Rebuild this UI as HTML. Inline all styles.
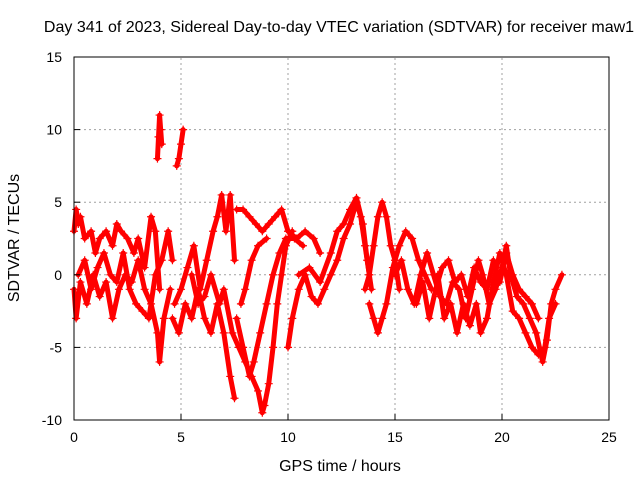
<!DOCTYPE html>
<html><head><meta charset="utf-8"><style>
body{margin:0;background:#fff;}
svg{display:block;font-family:"Liberation Sans",Arial,sans-serif;}
</style></head><body>
<svg id="chart" width="640" height="480">
<text x="339" y="32" font-size="16" text-anchor="middle">Day 341 of 2023, Sidereal Day-to-day VTEC variation (SDTVAR) for receiver maw1</text>
<text x="340" y="471" font-size="16" text-anchor="middle">GPS time / hours</text>
<text transform="translate(19,238) rotate(-90)" font-size="16" text-anchor="middle">SDTVAR / TECUs</text>
<g id="grid"></g><g id="marks"></g>
<rect x="74" y="57" width="535" height="363" fill="none" stroke="#000"/>
<g id="ticks"></g>
</svg>
<script>
const xTicks=[0,5,10,15,20,25];
const yTicks=[-10,-5,0,5,10,15];
const t1h=[0,0.1,0.2,0.3,0.5,0.8,1.0,1.2,1.5,1.8,2.0,2.2,2.5,2.8,3.0,3.3,3.6,3.8,4.0];
const t1v=[3,4.5,3.5,4,2.5,3,1.5,2.5,3,2,3.5,3,2.5,1.5,2.5,0.5,4,3,-1];
const t2h=[0,0.1,0.3,0.6,0.9,1.2,1.5,1.8,2.1,2.4,2.7,3.0,3.3,3.6,3.9,4.0,4.2,4.5];
const t2v=[-1,-3,-0.5,-2,0,-1.5,-0.5,-3,-1,0,-0.5,1,-1,-2,-4,-6,-3,-1];
const t3h=[0.2,0.5,0.8,1.1,1.4,1.7,2.0,2.3,2.6,2.9,3.2,3.5,3.8,4.1,4.4,4.6];
const t3v=[0,1,-1,0.5,1.5,0,-0.5,1.5,-1,-2,-2.5,-3,0,1,3,1];
const t4h=[3.9,3.95,4.0,4.05,4.1];
const t4v=[8,9.5,11,10,9];
const t5h=[4.8,4.9,5.0,5.1];
const t5v=[7.5,8,9,10];
const t6h=[4.7,5.0,5.3,5.6,5.9,6.2,6.5,6.7,6.9,7.1,7.3,7.5];
const t6v=[-2,-1,0.5,2,-1,1,3,4,5.5,3,5.5,1];
const t7h=[4.6,4.9,5.2,5.5,5.8,6.1,6.4,6.7,7.0,7.3,7.5];
const t7v=[-3,-4,-2,-3,-1,-3,-4,-2,-4,-7,-8.5];
const t8h=[5.5,5.8,6.1,6.4,6.8,7.0,7.4,7.7,8.0,8.3,8.6,8.8,8.9,9.1,9.3,9.5,9.7,9.9,10.2];
const t8v=[0,-2,-1.5,0,-2,-1,-4,-5,-6,-7,-8,-9.5,-9,-7.5,-5,-2,0,2,3];
const t9h=[7.6,7.9,8.2,8.4,8.7,9.0,9.3,9.6,9.9,10.3,10.7];
const t9v=[-3,-5,-7,-6,-4,-2,0,1.5,2.5,2.5,2];
const t10h=[7.6,7.9,8.2,8.5,8.8,9.1,9.4,9.7,10.0,10.4,10.8,11.2,11.5];
const t10v=[4.5,4.5,4,3.5,3,3.5,4,4.5,3,2.5,3,2.5,1.5];
const t11h=[7.8,8.0,8.3,8.6,9.0];
const t11v=[-2,-1,1,2,2.5];
const t12h=[10.0,10.2,10.5,10.8,11.1,11.4,11.7,12.0,12.3,12.6,12.9,13.2,13.4,13.6,13.8];
const t12v=[-5,-3,-1,0,-1.5,-2,-1,0,1,2.5,3.5,5,4,2,0];
const t13h=[10.5,11.0,11.5,12.0,12.3,12.6,12.9,13.2,13.5,13.7,13.9];
const t13v=[0,0.5,-0.5,1.5,3,3.5,4.5,5.3,3.5,1,-1];
const t14h=[13.6,13.8,14.0,14.2,14.4,14.6,14.8,15.0,15.2];
const t14v=[-1,0,2,4,5,4,2,1,-1];
const t15h=[13.8,14.0,14.2,14.4,14.6,14.9,15.2,15.5,15.8,16.1,16.4,16.7];
const t15v=[-2,-3,-4,-3,-2,0.5,2,3,2.5,1,0,-1];
const t16h=[15.0,15.3,15.6,15.9,16.2,16.5,16.8,17.1,17.4,17.7,18.0,18.3,18.6,18.9,19.1,19.4,19.7,20.0,20.2,20.4,20.7,21.0,21.3,21.6,21.9,22.1,22.3,22.5,22.8];
const t16v=[0,1,-1,-2,0,1.5,0,-1.5,-2,-0.5,-1,-3,-1,1,0,-2,-1,0.5,2,0,-1.5,-2,-3,-4,-6,-4.5,-2,-1,0];
const t17h=[17.0,17.3,17.6,17.9,18.2,18.5,18.8,19.0,19.3,19.6,19.9,20.2,20.5,20.8,21.1,21.4,21.7,22.0,22.2,22.5];
const t17v=[0,-3,-2,-4,-2,-3.5,-2,-4,-3,-0.5,1.5,0,-2.5,-3,-4,-5,-5.5,-5,-3,-2];
const t18h=[16.0,16.3,16.6,16.9,17.2,17.5,17.8,18.1,18.4,18.7,19.0,19.3,19.6,19.9,20.2,20.5,20.8,21.1,21.4,21.7];
const t18v=[-2,-0.5,-3,-1,0.5,1,-0.5,0,-1.5,0.5,-0.5,-1,1,-0.5,1.5,0,-1,-1.5,-2,-3];
const tracks=[[t1h,t1v],[t2h,t2v],[t3h,t3v],[t4h,t4v],[t5h,t5v],[t6h,t6v],[t7h,t7v],[t8h,t8v],[t9h,t9v],[t10h,t10v],[t11h,t11v],[t12h,t12v],[t13h,t13v],[t14h,t14v],[t15h,t15v],[t16h,t16v],[t17h,t17v],[t18h,t18v]];

const NS="http://www.w3.org/2000/svg";
const X0=74,X1=609,Y0=420,Y1=57;
function sx(v){return X0+(v-0)/(25-0)*(X1-X0);}
function sy(v){return Y0-(v+10)/(15+10)*(Y0-Y1);}
function mk(tag,attrs,parent){const e=document.createElementNS(NS,tag);for(const k in attrs)e.setAttribute(k,attrs[k]);parent.appendChild(e);return e;}
const grid=document.getElementById('grid'),ticks=document.getElementById('ticks'),marks=document.getElementById('marks');
xTicks.forEach(t=>{
  const x=sx(t);
  if(t>0&&t<25){const g=mk('line',{x1:x,x2:x,y1:Y0,y2:Y1,stroke:'#a0a0a0','stroke-dasharray':'2,3'},grid);
  
  }
  const tk=mk('line',{x1:x,x2:x,y1:Y0,y2:Y0-6,stroke:'#000'},ticks);
  
  
  const tx=mk('text',{x:x,y:Y0+22,'font-size':14,'text-anchor':'middle'},ticks);tx.textContent=t;
  
  
});
yTicks.forEach(t=>{
  const y=sy(t);
  if(t>-10&&t<15){const g=mk('line',{x1:X0,x2:X1,y1:y,y2:y,stroke:'#a0a0a0','stroke-dasharray':'2,3'},grid);
  
  }
  const tk=mk('line',{x1:X0,x2:X0+6,y1:y,y2:y,stroke:'#000'},ticks);
  
  
  const tx=mk('text',{x:X0-12,y:y+5,'font-size':14,'text-anchor':'end'},ticks);tx.textContent=t;
  
  
});
tracks.forEach((tr,i)=>{
  const hs=tr[0],vs=tr[1];
  const pts=hs.map((h,j)=>sx(h)+','+sy(vs[j])).join(' ');
  const pl=mk('polyline',{points:pts,fill:'none',stroke:'#ff0000','stroke-width':5,'stroke-linejoin':'round','stroke-linecap':'round'},marks);
  
  
  hs.forEach((h,j)=>{
    const x=sx(h),y=sy(vs[j]);
    const p=mk('path',{d:`M${x-4},${y}H${x+4}M${x},${y-4}V${y+4}`,stroke:'#ff0000','stroke-width':1.2},marks);
    
    
  });
});
</script>
</body></html>
